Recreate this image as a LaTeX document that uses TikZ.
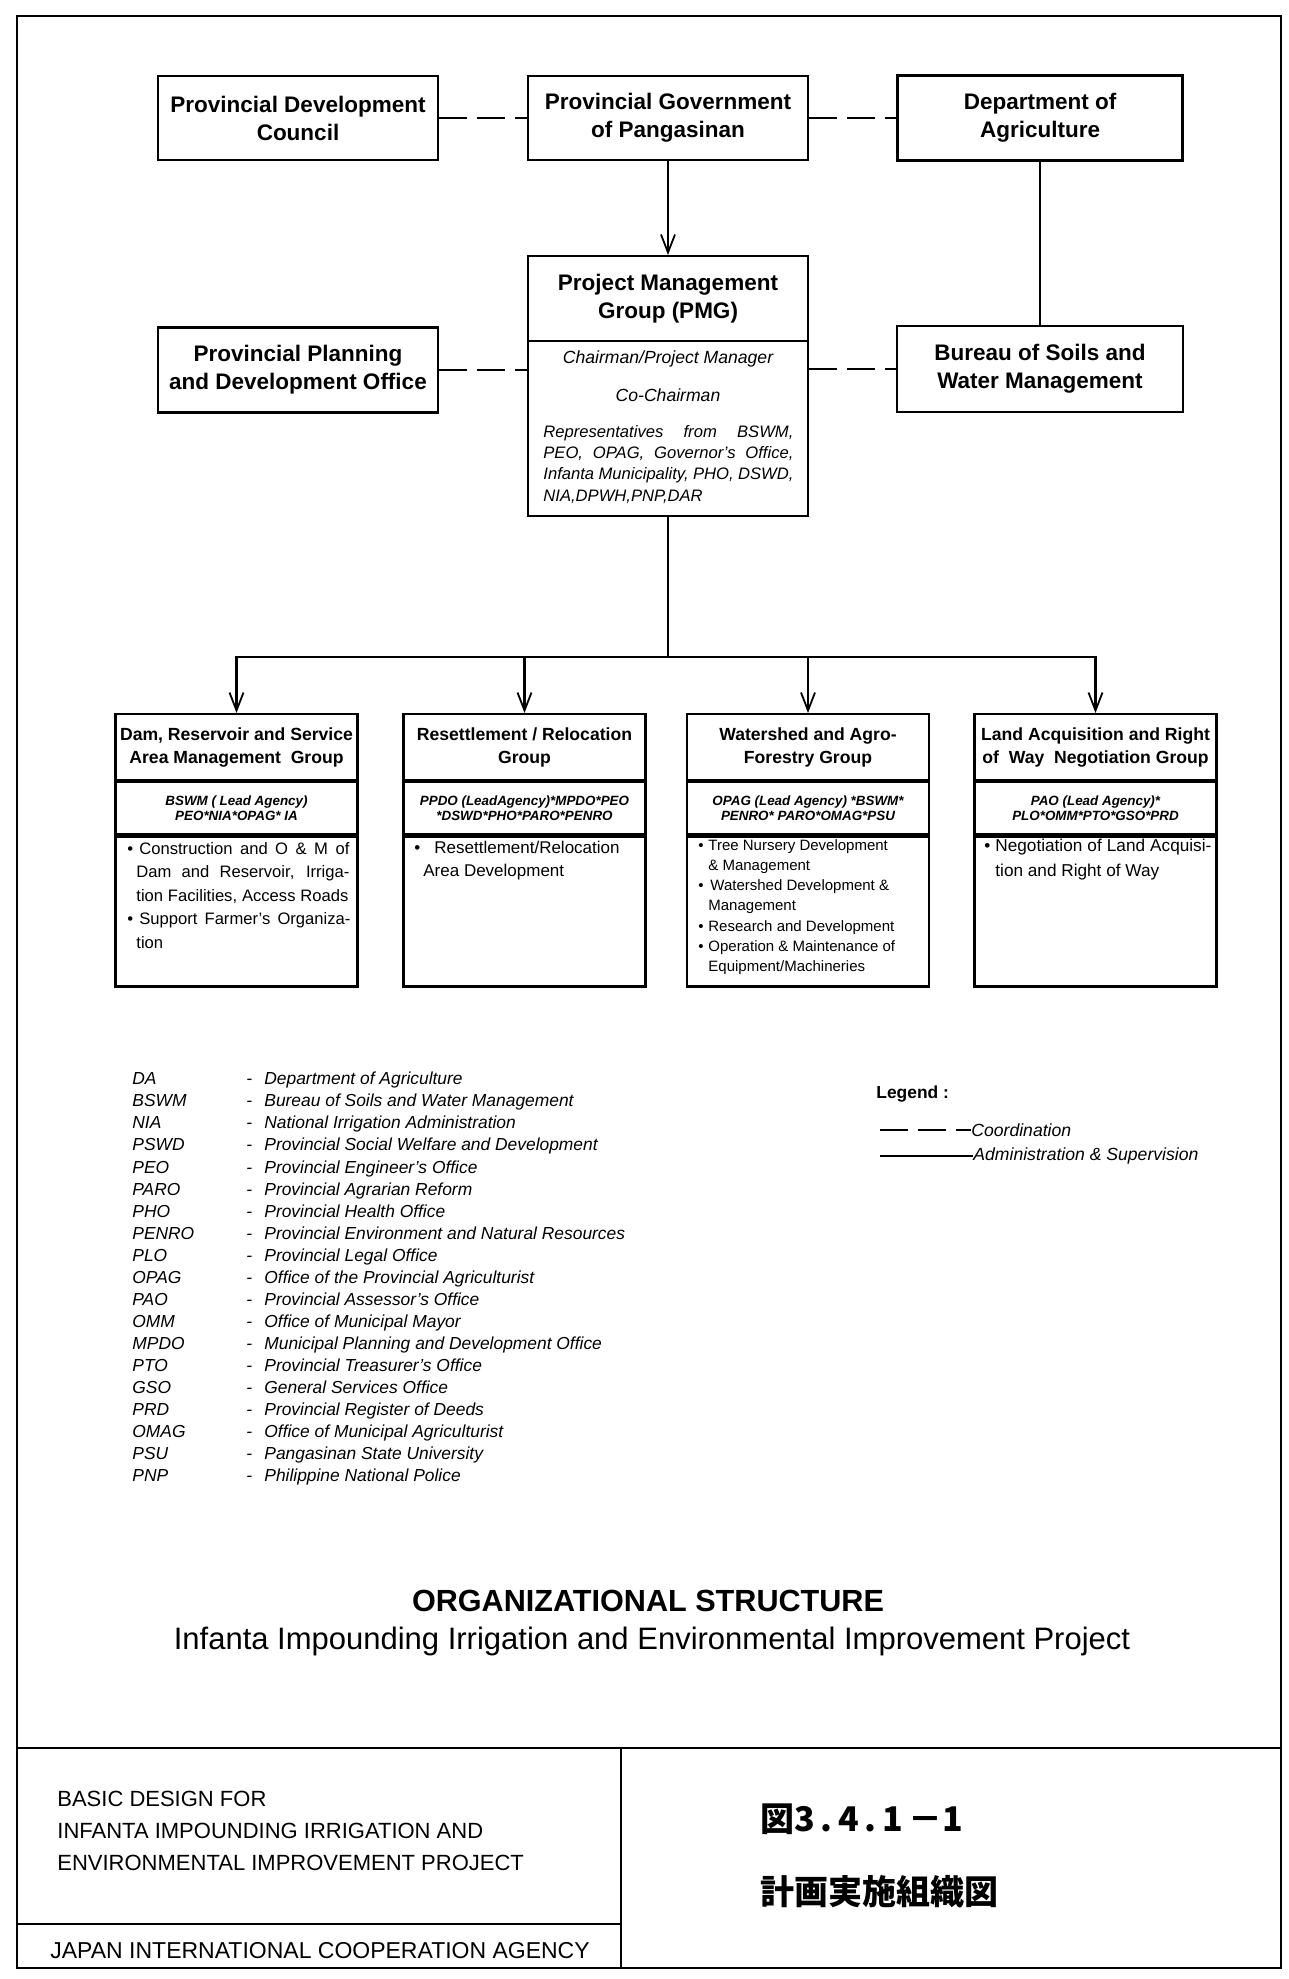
\documentclass[tikz,border=0pt]{standalone}
\usepackage{fontspec}
\setmainfont{Liberation Sans}
\newfontfamily\jpfont{Noto Sans CJK JP}
\usetikzlibrary{arrows.meta}
\begin{document}
\begin{tikzpicture}[x=0.5pt,y=-0.5pt,
  bx/.style={draw,line width=1.1pt,inner sep=0pt,align=center,font=\bfseries\fontsize{11.25}{14}\selectfont},
  gt/.style={draw,line width=1.1pt,anchor=north,minimum width=121pt,minimum height=33pt,inner sep=0pt,align=center,font=\bfseries\fontsize{8.8}{11.5}\selectfont},
  ga/.style={draw,line width=1.1pt,anchor=north,minimum width=121pt,minimum height=26pt,inner sep=0pt,align=center,font=\bfseries\itshape\fontsize{6.7}{7.5}\selectfont},
  gk/.style={draw,line width=1.1pt,anchor=north,minimum width=121pt,minimum height=75pt,inner sep=0pt},
  lst/.style={anchor=north west,inner sep=0pt,align=left},
  itx/.style={inner sep=0pt,font=\itshape\fontsize{8.8}{10}\selectfont},
  coord/.style={line width=1pt,dash pattern=on 14pt off 5pt},
  adm/.style={line width=1.1pt},
  arr/.style={adm,-{Straight Barb[length=9pt,width=7pt,line width=0.9pt]}}
]
\fill[white] (0,0) rectangle (1289,1979);
\useasboundingbox (0,0) rectangle (1289,1979);
% frame and title block
\draw[line width=1.4pt] (17,16) rectangle (1281,1968);
\draw[line width=1.1pt] (17,1748) -- (1281,1748);
\draw[line width=1.1pt] (621,1748) -- (621,1968);
\draw[line width=1.1pt] (17,1924) -- (621,1924);

% top level
\node[bx,minimum width=140pt,minimum height=42pt] (pdc) at (298,118) {Provincial Development\\Council};
\node[bx,minimum width=140pt,minimum height=42pt] (pgp) at (668,118) {Provincial Government\\of Pangasinan};
\node[bx,minimum width=142.5pt,minimum height=42.5pt] (da) at (1040,118) {Department of\\Agriculture};
\node[bx,minimum width=140pt,minimum height=42.5pt] (ppdo) at (298,370) {Provincial Planning\\and Development Office};
\node[bx,minimum width=143pt,minimum height=43pt] (bswm) at (1040,369) {Bureau of Soils and\\Water Management};
\node[bx,minimum width=140pt,minimum height=42.5pt,anchor=north] (pmgt) at (668,255) {Project Management\\Group (PMG)};
\node[draw,line width=1.1pt,minimum width=140pt,minimum height=87.5pt,anchor=north,inner sep=0pt] (pmgb) at (668,340) {};
\node[itx] (chair) at (668,359) {Chairman/Project Manager};
\node[itx] (cochair) at (668,395) {Co-Chairman};
\node[lst,font=\itshape\fontsize{8.3}{10.6}\selectfont] (reps) at (543,425) {\makebox[125pt][s]{Representatives from BSWM,}\\\makebox[125pt][s]{PEO, OPAG, Governor's Office,}\\\makebox[125pt][s]{Infanta Municipality, PHO, DSWD,}\\NIA,DPWH,PNP,DAR};

% connectors top
\draw[coord] (pdc.east) -- (pgp.west);
\draw[coord] (pgp.east) -- (da.west);
\draw[coord] (ppdo.east) -- (ppdo.east -| pmgb.west);
\draw[coord] (pmgb.east |- bswm.west) -- (bswm.west);
\draw[arr] (pgp.south) -- (pmgt.north);
\draw[adm] (da.south) -- (bswm.north);

% groups
\node[gt] (g1t) at (236.5,713) {Dam, Reservoir and Service\\Area Management\ \ Group};
\node[ga] (g1a) at (g1t.south) {BSWM ( Lead Agency)\\PEO*NIA*OPAG* IA};
\node[gk] (g1k) at (g1a.south) {};
\node[gt] (g2t) at (524.5,713) {Resettlement / Relocation\\Group};
\node[ga] (g2a) at (g2t.south) {PPDO (LeadAgency)*MPDO*PEO\\*DSWD*PHO*PARO*PENRO};
\node[gk] (g2k) at (g2a.south) {};
\node[gt] (g3t) at (808,713) {Watershed and Agro-\\Forestry Group};
\node[ga] (g3a) at (g3t.south) {OPAG (Lead Agency) *BSWM*\\PENRO* PARO*OMAG*PSU};
\node[gk] (g3k) at (g3a.south) {};
\node[gt] (g4t) at (1095.5,713) {Land Acquisition and Right\\of\ \ Way\ \ Negotiation Group};
\node[ga] (g4a) at (g4t.south) {PAO (Lead Agency)*\\PLO*OMM*PTO*GSO*PRD};
\node[gk] (g4k) at (g4a.south) {};

\node[lst,font=\fontsize{8.3}{11.75}\selectfont] (g1x) at (127,842) {\makebox[6pt][l]{•}\makebox[105pt][s]{Construction and O \& M of}\\\hspace*{4.5pt}\makebox[106.5pt][s]{Dam and Reservoir, Irriga-}\\\hspace*{4.5pt}\makebox[106pt][s]{tion Facilities, Access Roads}\\\makebox[6pt][l]{•}\makebox[105.5pt][s]{Support Farmer's Organiza-}\\\hspace*{4.5pt}tion};
\node[lst,font=\fontsize{8.5}{11.5}\selectfont] (g2x) at (414,841) {\makebox[10pt][l]{•}Resettlement/Relocation\\\hspace*{4.5pt}Area Development};
\node[lst,font=\fontsize{7.5}{10.1}\selectfont] (g3x) at (698,839) {\makebox[5pt][l]{•}Tree Nursery Development\\\hspace*{5pt}\& Management\\\makebox[6pt][l]{•}Watershed Development \&\\\hspace*{5pt}Management\\\makebox[5pt][l]{•}Research and Development\\\makebox[5pt][l]{•}Operation \& Maintenance of\\\hspace*{5pt}Equipment/Machineries};
\node[lst,font=\fontsize{8.6}{12.5}\selectfont] (g4x) at (984,838.5) {\makebox[5.5pt][l]{•}\makebox[108pt][s]{Negotiation of Land Acquisi-}\\\hspace*{5.5pt}tion and Right of Way};

% admin connectors to groups
\coordinate (bus) at (668,657);
\draw[adm] (pmgb.south) -- (bus);
\draw[arr] (bus) -| (g1t.north);
\draw[arr] (bus) -| (g2t.north);
\draw[arr] (bus) -| (g3t.north);
\draw[arr] (bus) -| (g4t.north);

% abbreviations
\node[anchor=north west,inner sep=0pt,font=\itshape\fontsize{8.7}{11.025}\selectfont] (abbr) at (132,1069) {%
\begin{tabular}{@{}p{57pt}@{}p{9pt}@{}l@{}}
DA & - & Department of Agriculture\\
BSWM & - & Bureau of Soils and Water Management\\
NIA & - & National Irrigation Administration\\
PSWD & - & Provincial Social Welfare and Development\\
PEO & - & Provincial Engineer's Office\\
PARO & - & Provincial Agrarian Reform\\
PHO & - & Provincial Health Office\\
PENRO & - & Provincial Environment and Natural Resources\\
PLO & - & Provincial Legal Office\\
OPAG & - & Office of the Provincial Agriculturist\\
PAO & - & Provincial Assessor's Office\\
OMM & - & Office of Municipal Mayor\\
MPDO & - & Municipal Planning and Development Office\\
PTO & - & Provincial Treasurer's Office\\
GSO & - & General Services Office\\
PRD & - & Provincial Register of Deeds\\
OMAG & - & Office of Municipal Agriculturist\\
PSU & - & Pangasinan State University\\
PNP & - & Philippine National Police
\end{tabular}};

% legend
\node[anchor=west,inner sep=0pt,font=\bfseries\fontsize{8.7}{10}\selectfont] (leg) at (876,1094) {Legend :};
\coordinate (lc) at (880,1130);
\node[anchor=west,inner sep=0pt,font=\itshape\fontsize{8.8}{10}\selectfont] (lct) at (971,1130) {Coordination};
\draw[coord] (lc) -- (lct.west);
\coordinate (la) at (880,1156);
\node[anchor=west,inner sep=0pt,font=\itshape\fontsize{8.8}{10}\selectfont] (lat) at (973,1156) {Administration \& Supervision};
\draw[line width=0.8pt] (la) -- (lat.west);

% titles
\node[inner sep=0pt,font=\bfseries\fontsize{15.3}{18}\selectfont] (ttl) at (648,1601) {ORGANIZATIONAL STRUCTURE};
\node[inner sep=0pt,font=\fontsize{15.5}{18}\selectfont] (sub) at (652,1641) {Infanta Impounding Irrigation and Environmental Improvement Project};
\node[lst,font=\fontsize{11}{16}\selectfont] (bd) at (57,1791) {BASIC DESIGN FOR\\INFANTA IMPOUNDING IRRIGATION AND\\ENVIRONMENTAL IMPROVEMENT PROJECT};
\node[anchor=west,inner sep=0pt,font=\fontsize{11.5}{14}\selectfont] (jica) at (50,1951) {JAPAN INTERNATIONAL COOPERATION AGENCY};
\node[anchor=west,inner sep=0pt,font=\jpfont\bfseries\fontsize{17}{20}\selectfont] (fig) at (760,1819) {図3\,.\,4\,.\,1\,－1};
\node[anchor=west,inner sep=0pt,font=\jpfont\bfseries\fontsize{17}{20}\selectfont] (jt) at (760,1892) {計画実施組織図};
\end{tikzpicture}
\end{document}
